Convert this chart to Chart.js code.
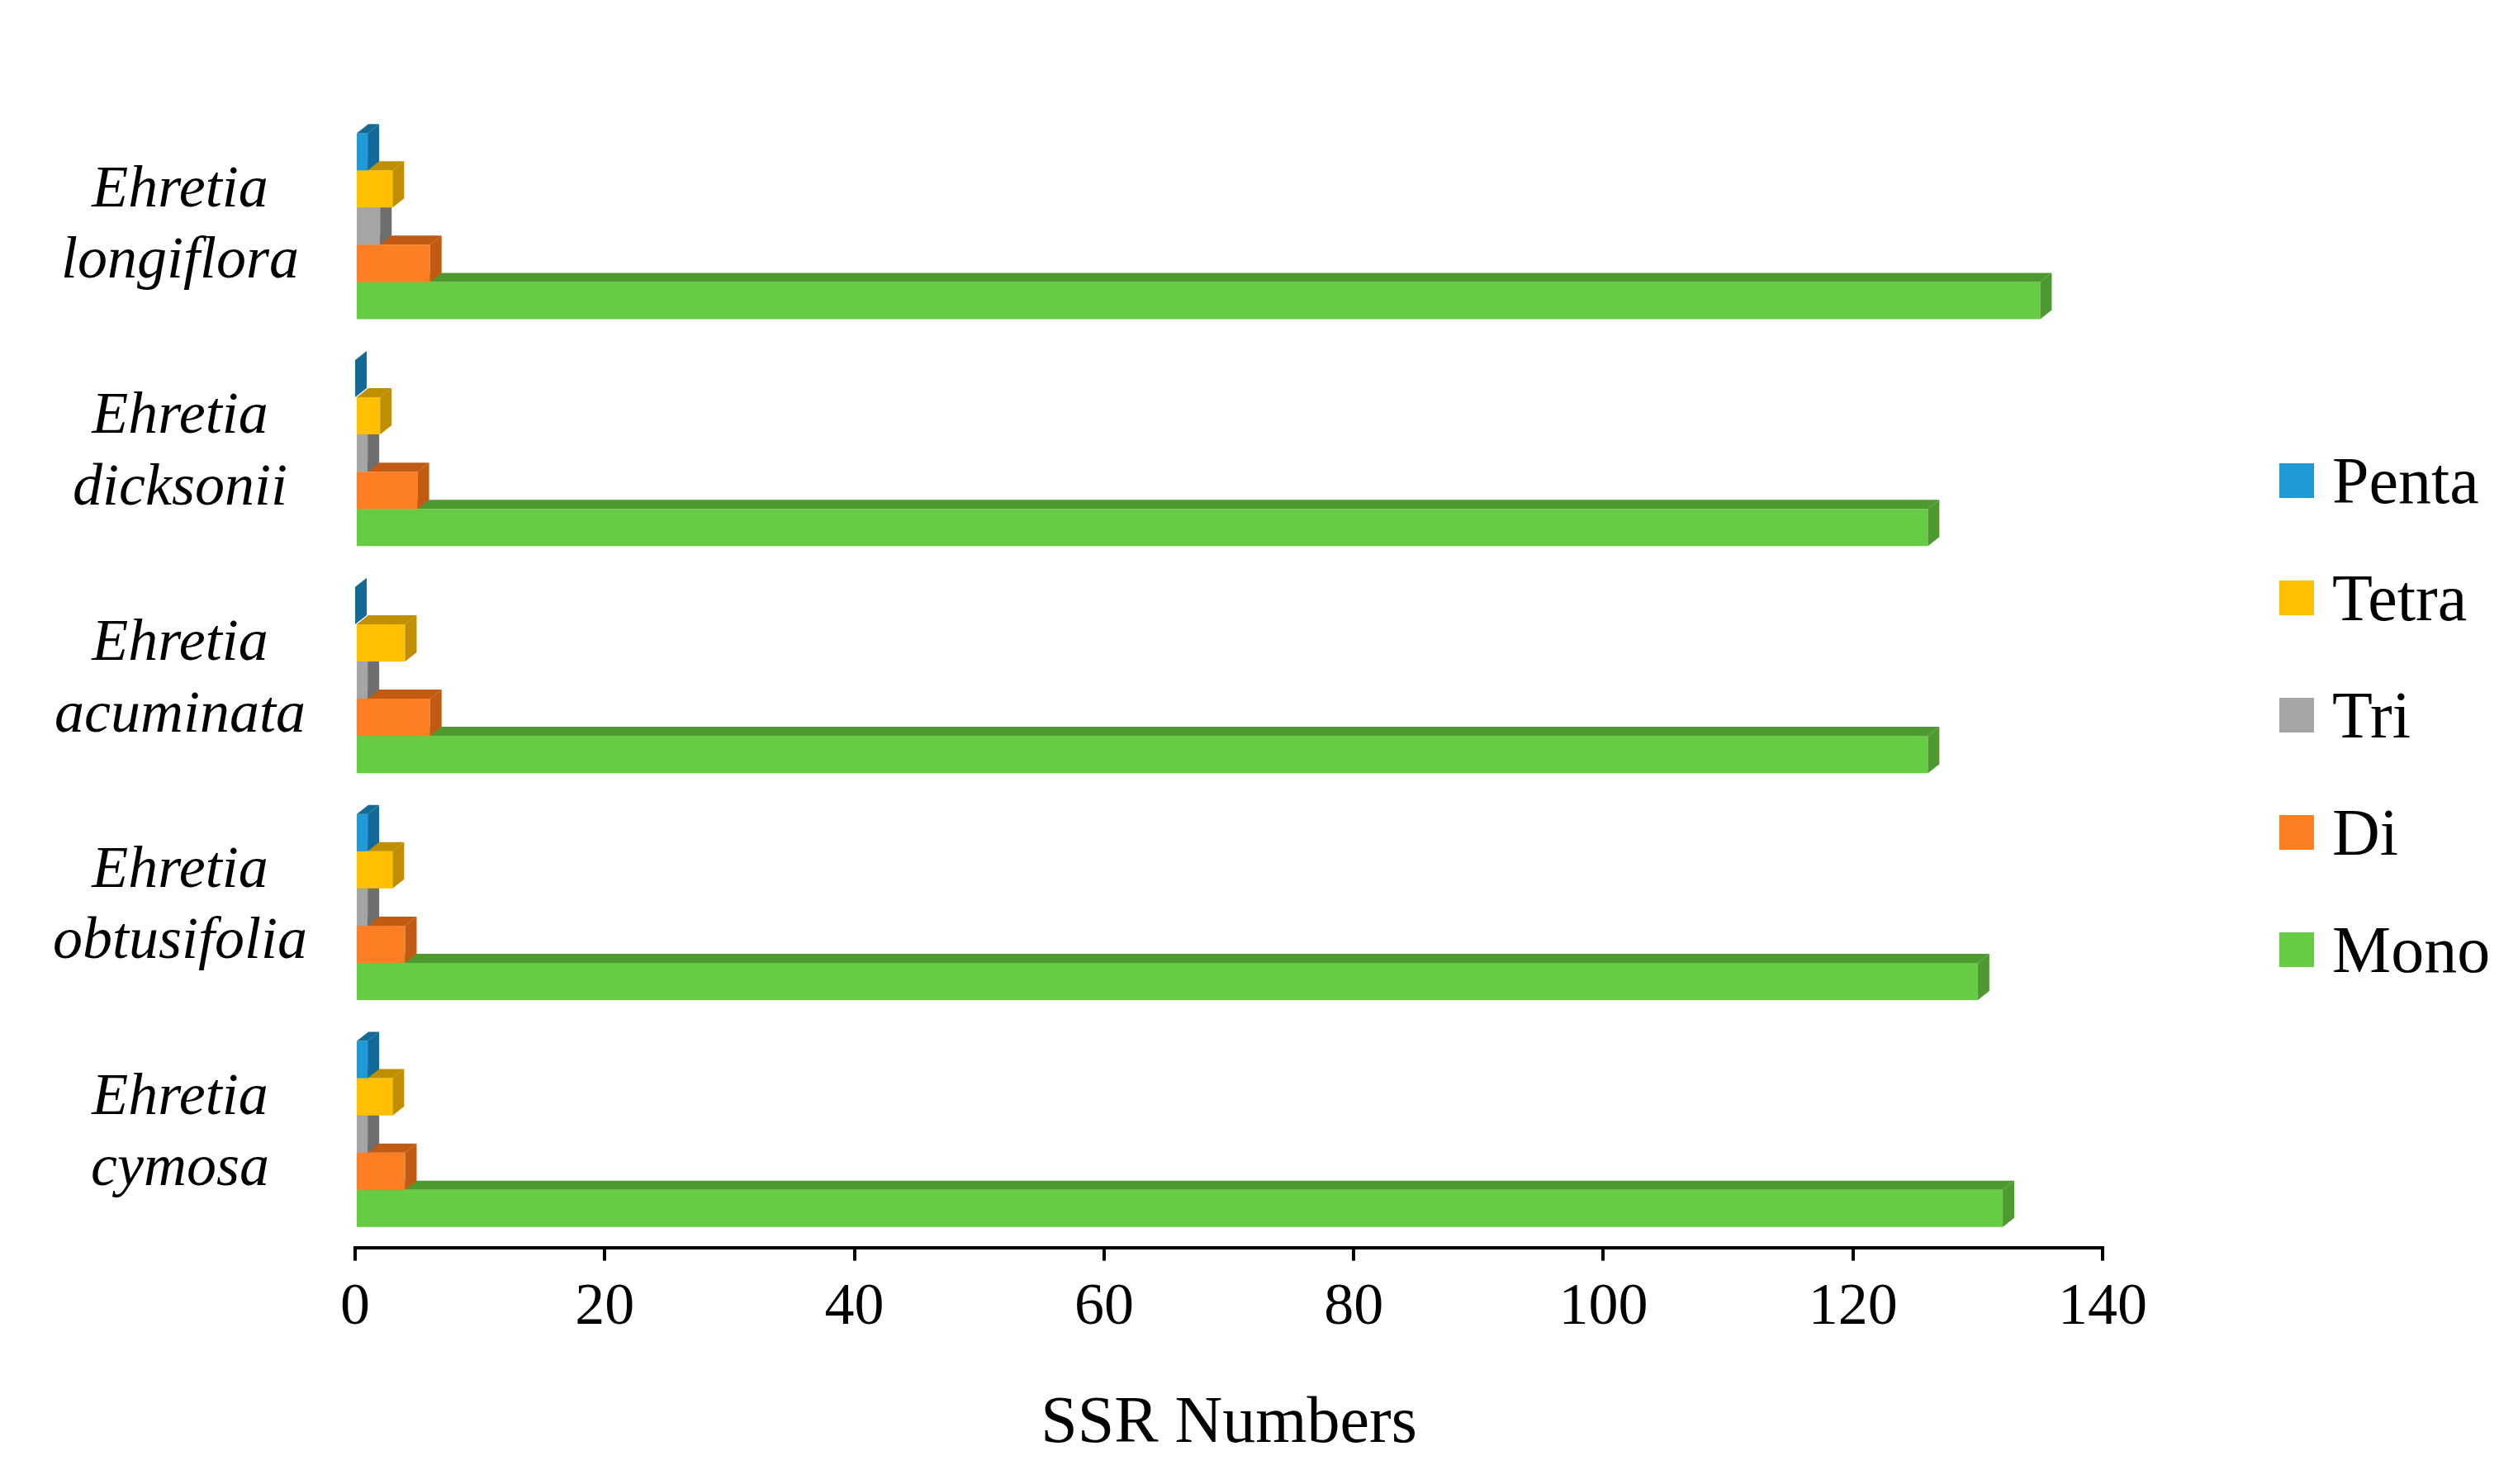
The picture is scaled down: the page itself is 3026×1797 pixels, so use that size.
<!DOCTYPE html>
<html>
<head>
<meta charset="utf-8">
<script src="https://cdn.jsdelivr.net/npm/chart.js@4"></script>
<style>
  html, body { margin: 0; padding: 0; background: #fff; }
  #wrap { width: 3026px; height: 1797px; position: relative; }
  #legend { position: absolute; left: 2760px; top: 0; font-family: "Liberation Serif", "Times New Roman", serif; font-size: 80px; color: #000; }
  .item { position: absolute; left: 0; height: 100px; display: flex; align-items: center; white-space: nowrap; }
  .sw { width: 42px; height: 42px; margin-right: 22px; }
</style>
</head>
<body>
<div id="wrap"><canvas id="ssrChart"></canvas><div id="legend"></div></div>
<script>
// Species (top to bottom)
const species = [
    ['Ehretia', 'longiflora'],
    ['Ehretia', 'dicksonii'],
    ['Ehretia', 'acuminata'],
    ['Ehretia', 'obtusifolia'],
    ['Ehretia', 'cymosa']
];

// SSR counts per repeat type
const penta = [1, 0, 0, 1, 1];
const tetra = [3, 2, 4, 3, 3];
const tri   = [2, 1, 1, 1, 1];
const di    = [6, 5, 6, 4, 4];
const mono  = [135, 126, 126, 130, 132];

const xTicks = [0, 20, 40, 60, 80, 100, 120, 140];

// front / shaded face colours
const colors = {
    penta: ['#1f9ad6', '#146a96'],
    tetra: ['#ffc000', '#bf8f00'],
    tri:   ['#a5a5a5', '#6e6e6e'],
    di:    ['#fd7e23', '#c25a12'],
    mono:  ['#66cc44', '#4f9a30']
};

const serif = '"Liberation Serif", "Times New Roman", serif';

// draws the fake 3D top and side faces for each bar
const bar3d = {
    id: 'bar3d',
    afterDatasetDraw(chart, args) {
        const ctx = chart.ctx;
        const ds = chart.data.datasets[args.index];
        const dx = 14, dy = -11;
        args.meta.data.forEach((el) => {
            const p = el.getProps(['x', 'y', 'base', 'height'], true);
            const top = p.y - p.height / 2, bot = p.y + p.height / 2;
            ctx.save();
            ctx.fillStyle = ds.sideColor;
            ctx.beginPath();
            ctx.moveTo(p.base, top);
            ctx.lineTo(p.x, top);
            ctx.lineTo(p.x + dx, top + dy);
            ctx.lineTo(p.base + dx, top + dy);
            ctx.closePath();
            ctx.fill();
            ctx.beginPath();
            ctx.moveTo(p.x, top);
            ctx.lineTo(p.x + dx, top + dy);
            ctx.lineTo(p.x + dx, bot + dy);
            ctx.lineTo(p.x, bot);
            ctx.closePath();
            ctx.fill();
            ctx.restore();
        });
    }
};

const mk = (label, data, c) => ({
    label: label,
    data: data,
    backgroundColor: c[0],
    sideColor: c[1],
    borderWidth: 0
});

const chart = new Chart(document.getElementById('ssrChart'), {
    type: 'bar',
    data: {
        labels: species,
        datasets: [
            mk('Penta', penta, colors.penta),
            mk('Tetra', tetra, colors.tetra),
            mk('Tri', tri, colors.tri),
            mk('Di', di, colors.di),
            mk('Mono', mono, colors.mono)
        ]
    },
    plugins: [bar3d],
    options: {
        indexAxis: 'y',
        responsive: true,
        maintainAspectRatio: false,
        animation: false,
        devicePixelRatio: 1,
        layout: { padding: { top: 28, right: 480, bottom: 20, left: 14 } },
        datasets: { bar: { categoryPercentage: 0.82, barPercentage: 1.0 } },
        plugins: {
            tooltip: { enabled: false },
            legend: { display: false }
        },
        scales: {
            x: {
                min: 0,
                max: 140,
                afterBuildTicks: (axis) => { axis.ticks = xTicks.map(v => ({ value: v })); },
                grid: { drawOnChartArea: false, color: '#000', lineWidth: 4, tickLength: 16 },
                border: { color: '#000', width: 4 },
                ticks: {
                    color: '#000',
                    padding: 14,
                    font: { family: serif, size: 72 }
                },
                title: {
                    display: true,
                    text: 'SSR Numbers',
                    color: '#000',
                    padding: { top: 36 },
                    font: { family: serif, size: 80 }
                }
            },
            y: {
                grid: { display: false },
                border: { display: false },
                ticks: {
                    color: '#000',
                    padding: 50,
                    crossAlign: 'center',
                    font: { family: serif, size: 72, style: 'italic' }
                }
            }
        }
    }
});

// legend on the right, Penta on top
const legendRows = [582, 724, 866, 1008, 1150];
const legendEl = document.getElementById('legend');
chart.data.datasets.forEach((ds, i) => {
    const item = document.createElement('div');
    item.className = 'item';
    item.style.top = (legendRows[i] - 50) + 'px';
    const sw = document.createElement('span');
    sw.className = 'sw';
    sw.style.background = ds.backgroundColor;
    item.appendChild(sw);
    item.appendChild(document.createTextNode(ds.label));
    legendEl.appendChild(item);
});
</script>
</body>
</html>
